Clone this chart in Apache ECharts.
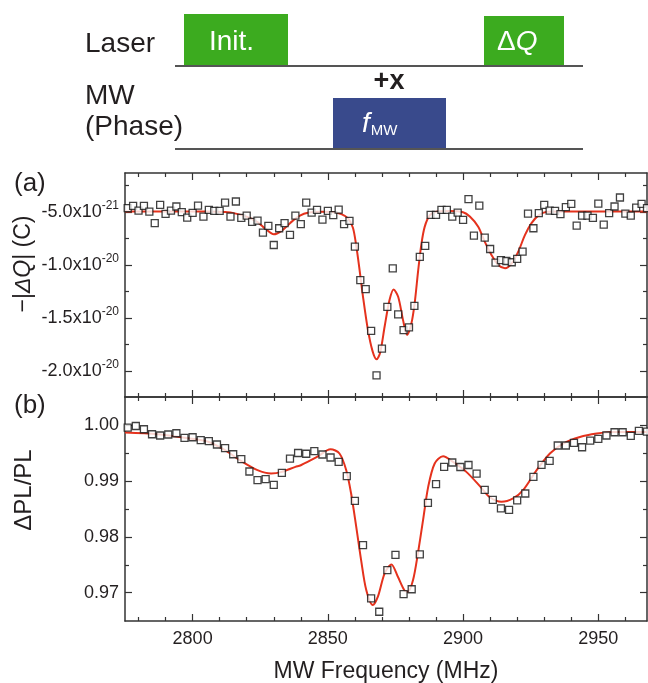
<!DOCTYPE html>
<html>
<head>
<meta charset="utf-8">
<script src="https://cdn.jsdelivr.net/npm/echarts@6/dist/echarts.min.js"></script>
<style>
html, body { margin: 0; padding: 0; background: #fff; }
#chart { width: 648px; height: 683px; }
</style>
</head>
<body>
<div id="chart"></div>
<script>
// ---- data ----
// (a) -|dQ| in units of 1e-21 C, one point every 2 MHz
var freqA = [2776,2778,2780,2782,2784,2786,2788,2790,2792,2794,
  2796,2798,2800,2802,2804,2806,2808,2810,2812,2814,
  2816,2818,2820,2822,2824,2826,2828,2830,2832,2834,
  2836,2838,2840,2842,2844,2846,2848,2850,2852,2854,
  2856,2858,2860,2862,2864,2866,2868,2870,2872,2874,
  2876,2878,2880,2882,2884,2886,2888,2890,2892,2894,
  2896,2898,2900,2902,2904,2906,2908,2910,2912,2914,
  2916,2918,2920,2922,2924,2926,2928,2930,2932,2934,
  2936,2938,2940,2942,2944,2946,2948,2950,2952,2954,
  2956,2958,2960,2962,2964,2966,2968];
var chargeA = [-4.64,-4.42,-4.86,-4.42,-4.96,-6.05,-4.32,-5.18,-4.86,-4.48,
  -5.01,-5.53,-5.08,-4.39,-5.43,-4.80,-4.89,-4.89,-4.11,-5.43,
  -4.01,-5.55,-5.34,-5.93,-5.81,-6.94,-6.31,-8.11,-6.53,-6.05,
  -7.16,-5.34,-6.15,-4.11,-5.05,-4.80,-5.71,-4.89,-5.30,-4.77,
  -6.15,-5.84,-8.27,-11.42,-12.27,-16.22,-20.41,-17.88,-13.95,-10.31,
  -14.66,-16.15,-15.89,-13.85,-9.24,-8.20,-5.27,-5.27,-4.80,-4.80,
  -5.43,-5.05,-5.74,-3.78,-7.23,-4.39,-7.42,-8.49,-9.78,-9.53,
  -9.62,-9.74,-9.43,-8.74,-5.15,-6.53,-5.11,-4.32,-4.86,-4.89,
  -5.20,-4.54,-4.23,-6.28,-5.34,-5.34,-5.55,-4.20,-6.19,-5.11,
  -4.48,-3.63,-5.15,-5.34,-4.58,-4.23,-4.64];
// fit curve (a)
var fitFreqA = [2775,2790,2805,2812,2816,2820,2824,2827,2830,2833,2836,2839.5,2843,2848,2852,
  2855,2857.5,2859.3,2860.5,2861.7,2863,2864.8,2866.5,2868,2869.3,2871,2872.8,2874.3,2876,
  2877.8,2879.3,2880.9,2882.1,2883.4,2884.6,2885.8,2887.7,2890,2895,2900,2902.5,2905.6,2908,
  2910.5,2913,2915.5,2918,2920.4,2922.9,2925.3,2927.8,2931,2936,2968];
var fitA = [-4.95,-4.95,-4.95,-5.0,-5.15,-5.45,-5.95,-6.6,-7.1,-6.75,-6.05,-5.36,-5.05,-4.98,-5.02,
  -5.2,-5.6,-6.5,-8.2,-10.4,-13.0,-16.1,-18.1,-18.9,-18.3,-15.8,-13.3,-12.3,-13.0,
  -15.2,-16.6,-15.5,-13.6,-10.5,-8.0,-6.4,-5.3,-4.97,-4.9,-5.02,-5.43,-6.38,-7.8,
  -9.05,-10.0,-10.3,-9.84,-8.74,-7.16,-6.05,-5.34,-4.98,-4.95,-4.95];

// (b) dPL/PL, one point every 3 MHz
var freqB = [2776,2779,2782,2785,2788,2791,2794,2797,2800,2803,
  2806,2809,2812,2815,2818,2821,2824,2827,2830,2833,
  2836,2839,2842,2845,2848,2851,2854,2857,2860,2863,
  2866,2869,2872,2875,2878,2881,2884,2887,2890,2893,
  2896,2899,2902,2905,2908,2911,2914,2917,2920,2923,
  2926,2929,2932,2935,2938,2941,2944,2947,2950,2953,
  2956,2959,2962,2965,2968];
var plB = [0.99959,0.99987,0.99928,0.99839,0.99816,0.99834,0.99857,0.99773,0.99785,0.99732,
  0.99714,0.99655,0.99589,0.99481,0.99392,0.99172,0.99016,0.99034,0.98932,0.99147,
  0.99401,0.99503,0.99490,0.99535,0.99476,0.99422,0.99343,0.99088,0.98646,0.97853,
  0.96900,0.96660,0.97406,0.97680,0.96977,0.97063,0.97687,0.98610,0.98945,0.99254,
  0.99333,0.99252,0.99288,0.99132,0.98841,0.98664,0.98510,0.98485,0.98653,0.98778,
  0.99075,0.99290,0.99361,0.99637,0.99637,0.99683,0.99606,0.99726,0.99755,0.99816,
  0.99875,0.99875,0.99809,0.99898,0.99887];
var fitFreqB = [2775,2787,2799,2806,2812,2818,2824,2829,2833,2838,2840,2846,2851,2854.3,2856.8,
  2858.6,2860.5,2862.3,2864.2,2866.6,2868.5,2871,2873.5,2875.9,2878.4,2879.6,2881.5,2883.3,
  2885.2,2887.1,2889.5,2892.6,2896.3,2901.2,2906.2,2909.9,2914.2,2918.5,2922.2,2927.2,2932.1,
  2937,2943.2,2949.4,2955.6,2968];
var fitB = [0.99869,0.99839,0.99762,0.99701,0.99553,0.99356,0.99195,0.99136,0.99165,0.99254,0.99284,0.99433,0.99571,0.99494,0.99195,
  0.98778,0.98181,0.97585,0.97048,0.96780,0.96929,0.97347,0.97508,0.97286,0.97036,0.97018,0.97227,0.97705,
  0.98300,0.98896,0.99315,0.99445,0.99343,0.99165,0.98910,0.98710,0.98628,0.98689,0.98837,0.99195,0.99494,
  0.99673,0.99791,0.99852,0.99880,0.99880];

// ticks
var xMajor = [2800, 2850, 2900, 2950];
var xMinor = [2780,2790,2810,2820,2830,2840,2860,2870,2880,2890,2910,2920,2930,2940,2960];
var aMajor = [-20, -15, -10, -5];
var aMinor = [-17.5, -12.5, -7.5, -2.5];
var aTickText = ['-2.0x10{s|-20}', '-1.5x10{s|-20}', '-1.0x10{s|-20}', '-5.0x10{s|-21}'];
var bMajor = [0.97, 0.98, 0.99, 1.00];
var bMinor = [0.975, 0.985, 0.995];
var bTickText = ['0.97', '0.98', '0.99', '1.00'];

// ---- chart ----
var font = '"Liberation Sans", Arial, sans-serif';
var ink = '#231f20';
var frame = '#333';
var xMin = 2775, xMax = 2968;
var aRange = [-22.45, -1.32];
var bRange = [0.96494, 1.00506];

function pairs(xs, ys) {
  return xs.map(function (x, i) { return [x, ys[i]]; });
}

function xAx(g, pos, ticks, len, line, labels) {
  return {
    type: 'value', gridIndex: g, position: pos, min: xMin, max: xMax,
    axisLine: { show: line, onZero: false, lineStyle: { color: frame, width: 1.5 } },
    axisTick: { show: true, inside: true, length: len, customValues: ticks, lineStyle: { color: frame, width: 1.2 } },
    axisLabel: { show: !!labels, customValues: ticks, margin: 9, fontSize: 18, fontFamily: font, color: ink,
      formatter: function (v) { return String(v); } },
    splitLine: { show: false }
  };
}

function yAx(g, pos, range, ticks, len, line, texts, majors) {
  return {
    type: 'value', gridIndex: g, position: pos, min: range[0], max: range[1],
    axisLine: { show: line, onZero: false, lineStyle: { color: frame, width: 1.5 } },
    axisTick: { show: true, inside: true, length: len, customValues: ticks, lineStyle: { color: frame, width: 1.2 } },
    axisLabel: {
      show: !!texts, customValues: ticks, margin: 6, fontSize: 18, fontFamily: font, color: ink,
      formatter: function (v) {
        var k = majors ? majors.indexOf(v) : -1;
        return k >= 0 ? texts[k] : '';
      },
      rich: { s: { fontSize: 12, fontFamily: font, color: ink, padding: [0, 0, 12, 0] } }
    },
    splitLine: { show: false }
  };
}

var rectA = { left: 125, top: 173, width: 522, height: 224 };
var rectB = { left: 125, top: 397, width: 522, height: 224 };

var chart = echarts.init(document.getElementById('chart'));
chart.setOption({
  animation: false,
  backgroundColor: '#fff',
  grid: [rectA, rectB, rectA, rectB],
  xAxis: [
    xAx(0, 'bottom', xMajor, 7, true, false),
    xAx(1, 'bottom', xMajor, 7, true, true),
    xAx(0, 'top', xMajor, 7, true, false),
    xAx(1, 'top', xMajor, 7, true, false),
    xAx(2, 'bottom', xMinor, 4, false, false),
    xAx(3, 'bottom', xMinor, 4, false, false),
    xAx(2, 'top', xMinor, 4, false, false),
    xAx(3, 'top', xMinor, 4, false, false)
  ],
  yAxis: [
    yAx(0, 'left', aRange, aMajor, 7, true, aTickText, aMajor),
    yAx(1, 'left', bRange, bMajor, 7, true, bTickText, bMajor),
    yAx(0, 'right', aRange, aMajor, 7, true, null, null),
    yAx(1, 'right', bRange, bMajor, 7, true, null, null),
    yAx(2, 'left', aRange, aMinor, 4, false, null, null),
    yAx(3, 'left', bRange, bMinor, 4, false, null, null),
    yAx(2, 'right', aRange, aMinor, 4, false, null, null),
    yAx(3, 'right', bRange, bMinor, 4, false, null, null)
  ],
  series: [
    {
      type: 'line', xAxisIndex: 0, yAxisIndex: 0, data: pairs(fitFreqA, fitA),
      showSymbol: false, smooth: 0.3, lineStyle: { color: '#e5321d', width: 2 }, z: 2
    },
    {
      type: 'scatter', xAxisIndex: 0, yAxisIndex: 0, data: pairs(freqA, chargeA),
      symbol: 'rect', symbolSize: 7, itemStyle: { color: '#fff', borderColor: '#111', borderWidth: 1.3 }, z: 3
    },
    {
      type: 'line', xAxisIndex: 1, yAxisIndex: 1, data: pairs(fitFreqB, fitB),
      showSymbol: false, smooth: 0.3, lineStyle: { color: '#e5321d', width: 2 }, z: 2
    },
    {
      type: 'scatter', xAxisIndex: 1, yAxisIndex: 1, data: pairs(freqB, plB),
      symbol: 'rect', symbolSize: 7, itemStyle: { color: '#fff', borderColor: '#111', borderWidth: 1.3 }, z: 3
    }
  ],
  graphic: [
    // pulse sequence sketch
    { type: 'rect', shape: { x: 184, y: 14, width: 104, height: 51 }, style: { fill: '#3cab1f' } },
    { type: 'rect', shape: { x: 484, y: 16, width: 80, height: 50 }, style: { fill: '#3cab1f' } },
    { type: 'rect', shape: { x: 333, y: 98, width: 113, height: 51 }, style: { fill: '#394a8c' } },
    { type: 'line', shape: { x1: 175, y1: 66, x2: 583, y2: 66 }, style: { stroke: '#555', lineWidth: 2 } },
    { type: 'line', shape: { x1: 175, y1: 149, x2: 583, y2: 149 }, style: { stroke: '#555', lineWidth: 2 } },
    { type: 'text', x: 85, y: 44, style: { text: 'Laser', fontSize: 28, fontFamily: font, fill: ink, verticalAlign: 'middle' } },
    { type: 'text', x: 85, y: 96, style: { text: 'MW', fontSize: 28, fontFamily: font, fill: ink, verticalAlign: 'middle' } },
    { type: 'text', x: 85, y: 127, style: { text: '(Phase)', fontSize: 28, fontFamily: font, fill: ink, verticalAlign: 'middle' } },
    { type: 'text', x: 209, y: 42, style: { text: 'Init.', fontSize: 28, fontFamily: font, fill: '#fff', verticalAlign: 'middle' } },
    { type: 'text', x: 497, y: 42, style: { text: 'Δ{i|Q}', fontSize: 28, fontFamily: font, fill: '#fff', verticalAlign: 'middle',
      rich: { i: { fontSize: 28, fontFamily: font, fontStyle: 'italic', fill: '#fff' } } } },
    { type: 'text', x: 389, y: 82, style: { text: '+x', fontSize: 27, fontWeight: 'bold', fontFamily: font, fill: ink, align: 'center', verticalAlign: 'middle' } },
    { type: 'text', x: 362, y: 124, style: { text: '{f|f}{m|MW}', fill: '#fff', verticalAlign: 'middle',
      rich: { f: { fontSize: 28, fontStyle: 'italic', fontFamily: font, fill: '#fff' },
              m: { fontSize: 15, fontFamily: font, fill: '#fff', padding: [14, 0, 0, 1] } } } },
    // panel tags and axis titles
    { type: 'text', x: 14, y: 184, style: { text: '(a)', fontSize: 26, fontFamily: font, fill: ink, verticalAlign: 'middle' } },
    { type: 'text', x: 14, y: 406, style: { text: '(b)', fontSize: 26, fontFamily: font, fill: ink, verticalAlign: 'middle' } },
    { type: 'text', x: 24, y: 264, rotation: Math.PI / 2, style: { text: '−|{i|ΔQ}| (C)', fontSize: 23, fontFamily: font, fill: ink,
      align: 'center', verticalAlign: 'middle', rich: { i: { fontSize: 23, fontStyle: 'italic', fontFamily: font, fill: ink } } } },
    { type: 'text', x: 24, y: 490, rotation: Math.PI / 2, style: { text: 'ΔPL/PL', fontSize: 24, fontFamily: font, fill: ink,
      align: 'center', verticalAlign: 'middle' } },
    { type: 'text', x: 386, y: 672, style: { text: 'MW Frequency (MHz)', fontSize: 23, fontFamily: font, fill: ink,
      align: 'center', verticalAlign: 'middle' } }
  ]
});
</script>
</body>
</html>
